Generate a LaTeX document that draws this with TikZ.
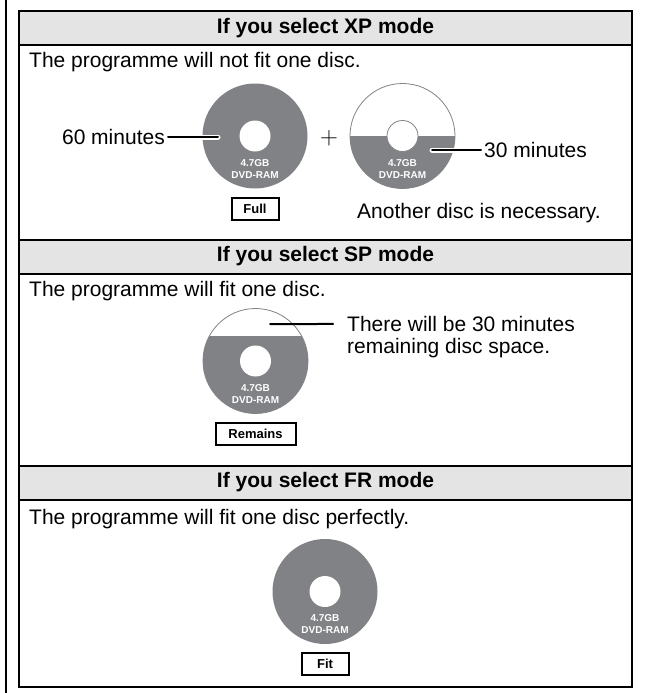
\documentclass[tikz,border=0pt]{standalone}
\usepackage{fontspec}
\setmainfont{Liberation Sans}
\usetikzlibrary{positioning}
\definecolor{discgray}{HTML}{808285}
\definecolor{barfill}{HTML}{E4E4E4}
\tikzset{
  bar/.style={rectangle,draw=black,line width=2pt,fill=barfill,minimum width=613pt,minimum height=34pt,inner sep=0pt,font=\fontsize{21}{25}\selectfont\bfseries},
  body/.style={inner sep=0pt,font=\fontsize{21}{25}\selectfont},
  disc/.style={circle,fill=discgray,minimum size=105pt,inner sep=0pt},
  halfdisc/.style={circle,draw=discgray,line width=0.8pt,fill=white,minimum size=105pt,inner sep=0pt},
  hole/.style={circle,fill=white,minimum size=31pt,inner sep=0pt},
  holeline/.style={hole,draw=discgray,line width=0.8pt},
  disctext/.style={text=white,align=center,inner sep=0pt,font=\fontsize{10}{12}\selectfont\bfseries},
  tag/.style={rectangle,draw=black,line width=2pt,minimum width=47pt,minimum height=22pt,inner sep=0pt,font=\fontsize{13}{13}\selectfont\bfseries},
  leader/.style={line width=2pt,line cap=round},
  halo/.style={white,line width=5pt,line cap=round}
}

\begin{document}
\begin{tikzpicture}[x=1pt,y=-1pt,node distance=8pt]
  \useasboundingbox (0,0) rectangle (648,693);
  \draw[line width=2pt] (6,0) -- (6,693);

  % XP mode
  \node[bar] (xphead) at (325.5,28) {If you select XP mode};
  \node[body,anchor=base west] (xptext) at (29,67) {The programme will not fit one disc.};
  \node[disc] (xp1) at (255,136) {};
  \node[hole] (xp1hole) at (xp1) {};
  \node[disctext] (xp1label) at (255,169) {4.7GB\\DVD-RAM};
  \node[tag,below=of xp1] (full) {Full};
  \node[inner sep=0pt,font=\fontsize{25}{25}\selectfont] (plus) at (329,138) {$+$};
  \node[halfdisc] (xp2) at (402.5,136) {};
  \begin{scope}
    \clip (340,136) rectangle (470,200);
    \fill[discgray] (xp2.center) circle (52.5);
  \end{scope}
  \node[holeline] (xp2hole) at (xp2) {};
  \node[disctext] (xp2label) at (402.5,169) {4.7GB\\DVD-RAM};
  \node[body,anchor=east] (min60) at (165,137) {60 minutes};
  \coordinate (xp1tip) at (218,137);
  \draw[halo] (xp1tip) -- (xp1tip -| xp1.west);
  \draw[leader,shorten <=3pt] (min60.east) -- (xp1tip);
  \node[body,anchor=west] (min30) at (484,150) {30 minutes};
  \coordinate (xp2tip) at (432,150);
  \draw[halo] (xp2tip) -- ++(21,0);
  \draw[leader,shorten >=3pt] (xp2tip) -- (min30.west);
  \node[body,anchor=base west] (another) at (357,218) {Another disc is necessary.};

  % SP mode
  \node[bar] (sphead) at (325.5,256.5) {If you select SP mode};
  \node[body,anchor=base west] (sptext) at (29,296) {The programme will fit one disc.};
  \node[halfdisc] (sp) at (255.5,361) {};
  \begin{scope}
    \clip (190,336) rectangle (330,420);
    \fill[discgray] (sp.center) circle (52.5);
  \end{scope}
  \node[hole] (sphole) at (sp) {};
  \node[disctext] (splabel) at (255.5,394) {4.7GB\\DVD-RAM};
  \node[tag,minimum width=80pt,below=of sp] (remains) {Remains};
  \coordinate (sptip) at (270,324);
  \node[body,anchor=base west] (spnote) at (347,331.5) {There will be 30 minutes};
  \node[body,anchor=base west] (spnote2) at ([yshift=-22pt]spnote.base west) {remaining disc space.};
  \draw[leader,shorten >=14pt] (sptip) -- (spnote.west);

  % FR mode
  \node[bar] (frhead) at (325.5,482.5) {If you select FR mode};
  \node[body,anchor=base west] (frtext) at (29,524) {The programme will fit one disc perfectly.};
  \node[disc] (fr) at (325,591.5) {};
  \node[hole] (frhole) at (fr) {};
  \node[disctext] (frlabel) at (325,624.5) {4.7GB\\DVD-RAM};
  \node[tag,below=of fr] (fit) {Fit};

  \draw[line width=2pt] (19,11) rectangle (632,687);
\end{tikzpicture}
\end{document}
